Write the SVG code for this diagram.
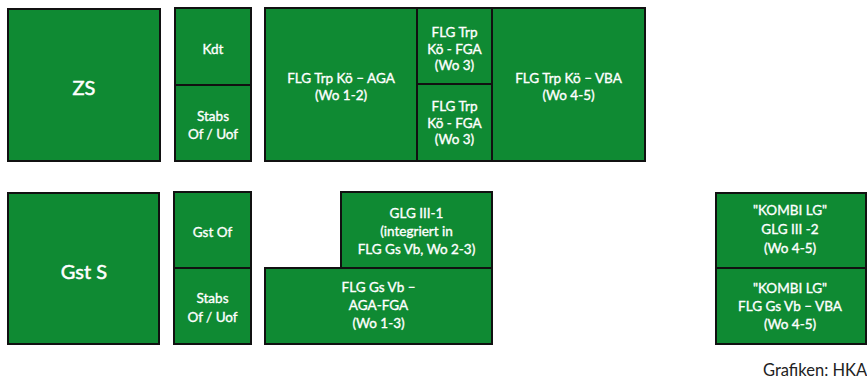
<svg xmlns="http://www.w3.org/2000/svg" width="867" height="379" viewBox="0 0 867 379">
<style>
.b{fill:#0f8a33;stroke:#111;stroke-width:2}
.t{fill:#fff;stroke:#fff;stroke-width:0.35;font-family:Lato,"Open Sans",sans-serif;font-size:13.5px;text-anchor:middle}
.L{font-size:20px;stroke-width:0.5}
.c{fill:#222;font-family:Lato,"Open Sans",sans-serif;font-size:16.5px}
</style>
<rect width="867" height="379" fill="#fff"/>
<g id="zs"><rect class="b" x="8" y="9" width="152" height="152"/><text class="t L" x="84" y="95">ZS</text></g>
<g id="kdt"><rect class="b" x="175" y="8" width="76" height="77"/><text class="t" x="213" y="54">Kdt</text></g>
<g id="stabs1"><rect class="b" x="175" y="85" width="76" height="76"/><text class="t" x="213" y="120.5">Stabs</text><text class="t" x="213" y="139">Of / Uof</text></g>
<g id="aga"><rect class="b" x="265" y="8" width="152" height="153"/><text class="t" x="341" y="83">FLG Trp Kö – AGA</text><text class="t" x="341" y="100">(Wo 1-2)</text></g>
<g id="fga1"><rect class="b" x="417" y="8" width="75" height="76"/><text class="t" x="454.5" y="37">FLG Trp</text><text class="t" x="454.5" y="53.5">Kö - FGA</text><text class="t" x="454.5" y="70">(Wo 3)</text></g>
<g id="fga2"><rect class="b" x="417" y="84" width="75" height="77"/><text class="t" x="454.5" y="111">FLG Trp</text><text class="t" x="454.5" y="127.5">Kö - FGA</text><text class="t" x="454.5" y="144">(Wo 3)</text></g>
<g id="vba"><rect class="b" x="492" y="8" width="153" height="153"/><text class="t" x="568.5" y="83">FLG Trp Kö – VBA</text><text class="t" x="568.5" y="100">(Wo 4-5)</text></g>
<g id="gsts"><rect class="b" x="8" y="193" width="151" height="151"/><text class="t L" x="84" y="279">Gst S</text></g>
<g id="gstof"><rect class="b" x="174" y="192" width="77" height="76"/><text class="t" x="212.5" y="236.5">Gst Of</text></g>
<g id="stabs2"><rect class="b" x="174" y="268" width="77" height="76"/><text class="t" x="212.5" y="303">Stabs</text><text class="t" x="212.5" y="321.5">Of / Uof</text></g>
<g id="glg1"><rect class="b" x="341" y="192" width="151" height="76"/><text class="t" x="416.5" y="218">GLG III-1</text><text class="t" x="416.5" y="236">(integriert in</text><text class="t" x="416.5" y="254">FLG Gs Vb, Wo 2-3)</text></g>
<g id="gsvb"><rect class="b" x="265" y="268" width="227" height="76"/><text class="t" x="378.5" y="292">FLG Gs Vb –</text><text class="t" x="378.5" y="310">AGA-FGA</text><text class="t" x="378.5" y="328">(Wo 1-3)</text></g>
<g id="kombi1"><rect class="b" x="716" y="193" width="150" height="75"/><text class="t" x="790" y="215">"KOMBI LG"</text><text class="t" x="790" y="234">GLG III -2</text><text class="t" x="790" y="252.5">(Wo 4-5)</text></g>
<g id="kombi2"><rect class="b" x="716" y="268" width="150" height="76"/><text class="t" x="790" y="293">"KOMBI LG"</text><text class="t" x="790" y="311">FLG Gs Vb – VBA</text><text class="t" x="790" y="328.5">(Wo 4-5)</text></g>
<g id="connectors"/>
<text class="c" x="763" y="376">Grafiken: HKA</text>
</svg>
